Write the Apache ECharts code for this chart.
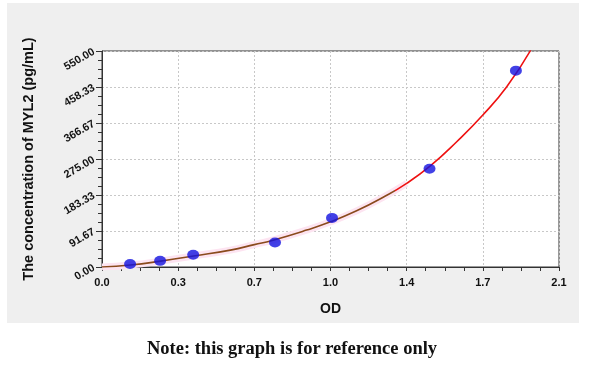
<!DOCTYPE html>
<html>
<head>
<meta charset="utf-8">
<script src="https://cdn.jsdelivr.net/npm/echarts@6/dist/echarts.min.js"></script>
<style>html,body{margin:0;padding:0;background:#fff}#c{width:600px;height:370px}</style>
</head>
<body>
<div id="c"></div>
<script>
// Standard points (OD, concentration)
const pointOD = [0.129, 0.267, 0.419, 0.795, 1.057, 1.505, 1.902];
const pointConc = [7.8, 15.6, 31.25, 62.5, 125, 250, 500];
// Fitted curve
const curveOD = [0, 0.13, 0.27, 0.42, 0.59, 0.70, 0.79, 0.94, 1.05, 1.17, 1.29, 1.40, 1.51, 1.63, 1.75, 1.86, 1.97];
const curveConc = [0, 5, 15, 28, 43, 57, 69, 94, 115, 143, 177, 213, 258, 319, 387, 459, 552];
const xTickLabels = ['0.0', '0.3', '0.7', '1.0', '1.4', '1.7', '2.1'];
const yTickLabels = ['0.00', '91.67', '183.33', '275.00', '366.67', '458.33', '550.00'];
const xName = 'OD';
const yName = 'The concentration of MYL2 (pg/mL)';
const note = 'Note: this graph is for reference only';

const points = pointOD.map((x, i) => [x, pointConc[i]]);
const curve = curveOD.map((x, i) => [x, curveConc[i]]);
const band = curve.filter(p => p[0] <= 1.40);

const chart = echarts.init(document.getElementById('c'));
const lbl = { fontFamily: 'Liberation Sans', fontWeight: 'bold', fontSize: 11, color: '#111' };
const split = 1.34 / 1.97;
chart.setOption({
  backgroundColor: '#ffffff',
  animation: false,
  graphic: [
    { type: 'rect', z: -10, shape: { x: 7, y: 3, width: 572, height: 320 }, style: { fill: '#efefef' } },
    { type: 'text', style: { text: note, x: 292, y: 349, align: 'center', verticalAlign: 'middle',
      font: 'bold 18.5px "Liberation Serif"', fill: '#111' } }
  ],
  grid: { left: 102, top: 51, right: 41, bottom: 103, show: true, backgroundColor: '#ffffff', borderColor: '#333', borderWidth: 1 },
  xAxis: {
    type: 'value', min: 0, max: 2.1, interval: 0.35,
    name: xName, nameLocation: 'middle', nameGap: 35,
    nameTextStyle: { fontFamily: 'Liberation Sans', fontWeight: 'bold', fontSize: 14, color: '#111' },
    axisLine: { lineStyle: { color: '#333' } },
    axisTick: { show: true, length: 4, lineStyle: { color: '#333' } },
    minorTick: { show: true, splitNumber: 4, length: 4, lineStyle: { color: '#333' } },
    axisLabel: Object.assign({ margin: 10, formatter: v => xTickLabels[Math.round(v / 0.35)] }, lbl),
    splitLine: { show: true, lineStyle: { color: '#c8c8c8', type: [2, 2] } }
  },
  yAxis: {
    type: 'value', min: 0, max: 550, interval: 550 / 6,
    name: yName, nameLocation: 'middle', nameGap: 66, nameRotate: 90,
    nameTextStyle: { fontFamily: 'Liberation Sans', fontWeight: 'bold', fontSize: 14.5, color: '#111' },
    axisLine: { show: true, lineStyle: { color: '#333' } },
    axisTick: { show: true, length: 6, lineStyle: { color: '#333' } },
    minorTick: { show: true, splitNumber: 4, length: 4, lineStyle: { color: '#333' } },
    axisLabel: Object.assign({ margin: 8, rotate: 30, formatter: v => yTickLabels[Math.round(v / (550 / 6))] }, lbl),
    splitLine: { show: true, lineStyle: { color: '#c8c8c8', type: [2, 2] } }
  },
  series: [
    { type: 'line', data: band, smooth: true, showSymbol: false, silent: true, z: 1,
      lineStyle: { color: '#fde4f1', width: 7 } },
    { type: 'line', data: curve, smooth: true, showSymbol: false, silent: true, z: 2,
      lineStyle: { width: 1.6, color: { type: 'linear', x: 0, y: 0, x2: 1, y2: 0, colorStops: [
        { offset: 0, color: '#8a4a1c' }, { offset: split, color: '#8a4a1c' },
        { offset: split, color: '#ee1111' }, { offset: 1, color: '#ee1111' }] } } },
    { type: 'scatter', data: points, symbol: 'circle', symbolSize: [12, 10], z: 3,
      itemStyle: { color: '#1212e0' } }
  ]
});
</script>
</body>
</html>
